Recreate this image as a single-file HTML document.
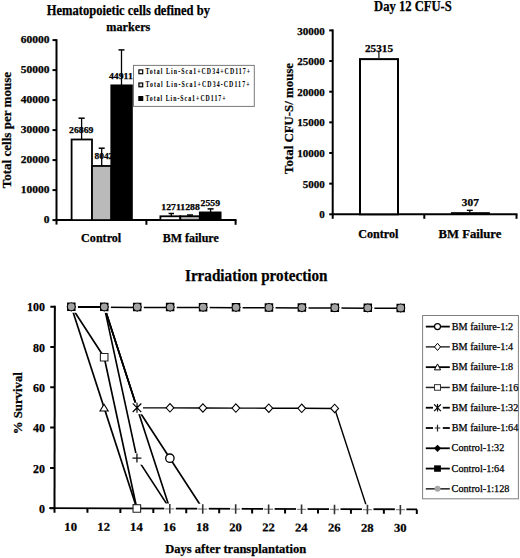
<!DOCTYPE html>
<html><head><meta charset="utf-8"><style>
html,body{margin:0;padding:0;background:#fff;}
svg{display:block;font-family:"Liberation Serif",serif;}
text{stroke:#000;stroke-width:0.25px;}
</style></head><body>
<svg width="520" height="558" viewBox="0 0 520 558">
<rect width="520" height="558" fill="#fff"/>
<text x="46.79" y="14.80" font-size="13.6" style="font-weight:bold" textLength="163.14" lengthAdjust="spacingAndGlyphs" fill="#000" >Hematopoietic cells defined by</text>
<text x="106.37" y="31.40" font-size="12.8" style="font-weight:bold" textLength="43.92" lengthAdjust="spacingAndGlyphs" fill="#000" >markers</text>
<text x="43.70" y="223.30" font-size="9.8" style="font-weight:bold" textLength="5.73" lengthAdjust="spacingAndGlyphs" fill="#000" >0</text>
<line x1="52.50" y1="220.10" x2="56.50" y2="220.10" stroke="#000" stroke-width="2" />
<text x="20.77" y="193.30" font-size="9.8" style="font-weight:bold" textLength="28.66" lengthAdjust="spacingAndGlyphs" fill="#000" >10000</text>
<line x1="52.50" y1="190.10" x2="56.50" y2="190.10" stroke="#000" stroke-width="2" />
<text x="20.77" y="163.30" font-size="9.8" style="font-weight:bold" textLength="28.66" lengthAdjust="spacingAndGlyphs" fill="#000" >20000</text>
<line x1="52.50" y1="160.10" x2="56.50" y2="160.10" stroke="#000" stroke-width="2" />
<text x="20.77" y="133.30" font-size="9.8" style="font-weight:bold" textLength="28.66" lengthAdjust="spacingAndGlyphs" fill="#000" >30000</text>
<line x1="52.50" y1="130.10" x2="56.50" y2="130.10" stroke="#000" stroke-width="2" />
<text x="20.77" y="103.30" font-size="9.8" style="font-weight:bold" textLength="28.66" lengthAdjust="spacingAndGlyphs" fill="#000" >40000</text>
<line x1="52.50" y1="100.10" x2="56.50" y2="100.10" stroke="#000" stroke-width="2" />
<text x="20.77" y="73.30" font-size="9.8" style="font-weight:bold" textLength="28.66" lengthAdjust="spacingAndGlyphs" fill="#000" >50000</text>
<line x1="52.50" y1="70.10" x2="56.50" y2="70.10" stroke="#000" stroke-width="2" />
<text x="20.77" y="43.30" font-size="9.8" style="font-weight:bold" textLength="28.66" lengthAdjust="spacingAndGlyphs" fill="#000" >60000</text>
<line x1="52.50" y1="40.10" x2="56.50" y2="40.10" stroke="#000" stroke-width="2" />
<line x1="56.50" y1="39.20" x2="56.50" y2="224.60" stroke="#000" stroke-width="2" />
<line x1="56.50" y1="220.10" x2="236.50" y2="220.10" stroke="#000" stroke-width="2" />
<line x1="146.40" y1="220.10" x2="146.40" y2="224.80" stroke="#000" stroke-width="2" />
<line x1="235.60" y1="220.10" x2="235.60" y2="224.80" stroke="#000" stroke-width="2" />
<text transform="translate(11.30,188.30) rotate(-90)" x="0" y="0" font-size="13.3" style="font-weight:bold" textLength="116.33" lengthAdjust="spacingAndGlyphs">Total cells per mouse</text>
<text x="81.11" y="242.30" font-size="11.5" style="font-weight:bold" textLength="40.09" lengthAdjust="spacingAndGlyphs" fill="#000" >Control</text>
<text x="162.80" y="242.20" font-size="11.5" style="font-weight:bold" textLength="55.91" lengthAdjust="spacingAndGlyphs" fill="#000" >BM failure</text>
<text x="69.09" y="132.60" font-size="8.2" style="font-weight:bold" textLength="24.26" lengthAdjust="spacingAndGlyphs" fill="#000" >26869</text>
<text x="94.49" y="159.30" font-size="8.8" style="font-weight:bold" textLength="18.82" lengthAdjust="spacingAndGlyphs" fill="#000" >8042</text>
<text x="108.97" y="78.70" font-size="8.2" style="font-weight:bold" textLength="23.82" lengthAdjust="spacingAndGlyphs" fill="#000" >44911</text>
<text x="161.33" y="209.70" font-size="8.6" style="font-weight:bold" textLength="38.49" lengthAdjust="spacingAndGlyphs" fill="#000" >12711288</text>
<text x="200.59" y="206.00" font-size="8.8" style="font-weight:bold" textLength="19.46" lengthAdjust="spacingAndGlyphs" fill="#000" >2559</text>
<rect x="71.60" y="139.49" width="20.40" height="80.61" fill="#fff" stroke="#000" stroke-width="1.8"/>
<rect x="92.00" y="165.97" width="19.30" height="54.13" fill="#bababa" stroke="#000" stroke-width="1.8"/>
<line x1="81.60" y1="139.49" x2="81.60" y2="118.20" stroke="#000" stroke-width="1.3" />
<line x1="78.50" y1="118.20" x2="84.70" y2="118.20" stroke="#000" stroke-width="1.5" />
<line x1="101.70" y1="165.97" x2="101.70" y2="148.20" stroke="#000" stroke-width="1.3" />
<line x1="98.70" y1="148.20" x2="104.70" y2="148.20" stroke="#000" stroke-width="1.5" />
<rect x="111.30" y="85.37" width="20.60" height="134.73" fill="#000" stroke="#000" stroke-width="1.8"/>
<line x1="121.50" y1="85.37" x2="121.50" y2="49.90" stroke="#000" stroke-width="1.3" />
<line x1="118.50" y1="49.90" x2="124.50" y2="49.90" stroke="#000" stroke-width="1.5" />
<rect x="160.40" y="216.29" width="19.90" height="3.81" fill="#fff" stroke="#000" stroke-width="1.8"/>
<rect x="180.30" y="216.24" width="19.50" height="3.86" fill="#bababa" stroke="#000" stroke-width="1.8"/>
<rect x="199.80" y="212.42" width="20.80" height="7.68" fill="#000" stroke="#000" stroke-width="1.8"/>
<line x1="171.30" y1="216.29" x2="171.30" y2="213.50" stroke="#000" stroke-width="1.3" />
<line x1="168.60" y1="213.50" x2="174.00" y2="213.50" stroke="#000" stroke-width="1.5" />
<line x1="190.00" y1="216.24" x2="190.00" y2="215.00" stroke="#000" stroke-width="1.3" />
<line x1="187.00" y1="215.00" x2="193.00" y2="215.00" stroke="#000" stroke-width="1.5" />
<line x1="210.60" y1="212.42" x2="210.60" y2="208.90" stroke="#000" stroke-width="1.3" />
<line x1="207.60" y1="208.90" x2="213.60" y2="208.90" stroke="#000" stroke-width="1.5" />
<rect x="133.5" y="65.4" width="120.8" height="41.0" fill="#fff" stroke="#7a7a7a" stroke-width="1"/>
<rect x="138.90" y="69.90" width="3.80" height="3.80" fill="#fff" stroke="#000" stroke-width="1.2"/>
<text transform="translate(145.50,73.90) scale(0.8,1)" x="-0.11" y="0" font-size="7.3" style="font-weight:bold;stroke-width:0.05px" textLength="131.00" lengthAdjust="spacing" >Total Lin-Sca1+CD34+CD117+</text>
<rect x="138.90" y="83.00" width="3.80" height="3.80" fill="#ddd" stroke="#000" stroke-width="1.2"/>
<text transform="translate(145.50,87.00) scale(0.8,1)" x="-0.11" y="0" font-size="7.3" style="font-weight:bold;stroke-width:0.05px" textLength="130.12" lengthAdjust="spacing" >Total Lin-Sca1+CD34-CD117+</text>
<rect x="138.90" y="96.60" width="3.80" height="3.80" fill="#000" stroke="#000" stroke-width="1.2"/>
<text transform="translate(145.50,100.60) scale(0.8,1)" x="-0.11" y="0" font-size="7.3" style="font-weight:bold;stroke-width:0.05px" textLength="100.25" lengthAdjust="spacing" >Total Lin-Sca1+CD117+</text>
<text x="374.08" y="10.90" font-size="13.6" style="font-weight:bold" textLength="77.76" lengthAdjust="spacingAndGlyphs" fill="#000" >Day 12 CFU-S</text>
<text x="319.31" y="218.40" font-size="10.5" style="font-weight:bold" textLength="5.51" lengthAdjust="spacingAndGlyphs" fill="#000" >0</text>
<line x1="329.20" y1="214.30" x2="332.70" y2="214.30" stroke="#000" stroke-width="2" />
<text x="302.77" y="187.75" font-size="10.5" style="font-weight:bold" textLength="22.05" lengthAdjust="spacingAndGlyphs" fill="#000" >5000</text>
<line x1="329.20" y1="183.65" x2="332.70" y2="183.65" stroke="#000" stroke-width="2" />
<text x="297.26" y="157.10" font-size="10.5" style="font-weight:bold" textLength="27.56" lengthAdjust="spacingAndGlyphs" fill="#000" >10000</text>
<line x1="329.20" y1="153.00" x2="332.70" y2="153.00" stroke="#000" stroke-width="2" />
<text x="297.26" y="126.45" font-size="10.5" style="font-weight:bold" textLength="27.56" lengthAdjust="spacingAndGlyphs" fill="#000" >15000</text>
<line x1="329.20" y1="122.35" x2="332.70" y2="122.35" stroke="#000" stroke-width="2" />
<text x="297.26" y="95.80" font-size="10.5" style="font-weight:bold" textLength="27.56" lengthAdjust="spacingAndGlyphs" fill="#000" >20000</text>
<line x1="329.20" y1="91.70" x2="332.70" y2="91.70" stroke="#000" stroke-width="2" />
<text x="297.26" y="65.15" font-size="10.5" style="font-weight:bold" textLength="27.56" lengthAdjust="spacingAndGlyphs" fill="#000" >25000</text>
<line x1="329.20" y1="61.05" x2="332.70" y2="61.05" stroke="#000" stroke-width="2" />
<text x="297.26" y="34.50" font-size="10.5" style="font-weight:bold" textLength="27.56" lengthAdjust="spacingAndGlyphs" fill="#000" >30000</text>
<line x1="329.20" y1="30.40" x2="332.70" y2="30.40" stroke="#000" stroke-width="2" />
<line x1="332.70" y1="29.40" x2="332.70" y2="218.80" stroke="#000" stroke-width="2" />
<line x1="332.70" y1="214.30" x2="517.50" y2="214.30" stroke="#000" stroke-width="2" />
<line x1="424.30" y1="214.30" x2="424.30" y2="218.80" stroke="#000" stroke-width="2" />
<line x1="516.50" y1="214.30" x2="516.50" y2="218.80" stroke="#000" stroke-width="2" />
<text transform="translate(293.40,173.90) rotate(-90)" x="0" y="0" font-size="13" style="font-weight:bold" textLength="110.93" lengthAdjust="spacingAndGlyphs">Total CFU-S/ mouse</text>
<text x="358.21" y="238.10" font-size="11.5" style="font-weight:bold" textLength="40.30" lengthAdjust="spacingAndGlyphs" fill="#000" >Control</text>
<text x="438.59" y="238.10" font-size="11.5" style="font-weight:bold" textLength="62.74" lengthAdjust="spacingAndGlyphs" fill="#000" >BM Failure</text>
<rect x="360.00" y="59.12" width="38.00" height="155.18" fill="#fff" stroke="#000" stroke-width="2"/>
<line x1="378.90" y1="59.12" x2="378.90" y2="50.50" stroke="#222" stroke-width="1.3" />
<text x="365.03" y="52.00" font-size="9.8" style="font-weight:bold" textLength="27.98" lengthAdjust="spacingAndGlyphs" fill="#000" >25315</text>
<text x="461.88" y="206.00" font-size="9.6" style="font-weight:bold" textLength="16.90" lengthAdjust="spacingAndGlyphs" fill="#000" >307</text>
<line x1="469.80" y1="210.30" x2="469.80" y2="213.00" stroke="#000" stroke-width="1.2" />
<line x1="466.80" y1="210.30" x2="472.80" y2="210.30" stroke="#000" stroke-width="1.3" />
<rect x="451.60" y="212.90" width="37.60" height="1.40" fill="#000" stroke="#000" stroke-width="1.4"/>
<text x="184.99" y="280.80" font-size="16.3" style="font-weight:bold" textLength="142.44" lengthAdjust="spacingAndGlyphs" fill="#000" >Irradiation protection</text>
<g transform="translate(54.5 508.2) skewX(-0.1) skewY(0.2) translate(-54.5 -508.2)">
<line x1="50.00" y1="508.20" x2="54.50" y2="508.20" stroke="#000" stroke-width="2" />
<line x1="50.00" y1="467.90" x2="54.50" y2="467.90" stroke="#000" stroke-width="2" />
<line x1="50.00" y1="427.60" x2="54.50" y2="427.60" stroke="#000" stroke-width="2" />
<line x1="50.00" y1="387.30" x2="54.50" y2="387.30" stroke="#000" stroke-width="2" />
<line x1="50.00" y1="347.00" x2="54.50" y2="347.00" stroke="#000" stroke-width="2" />
<line x1="50.00" y1="306.70" x2="54.50" y2="306.70" stroke="#000" stroke-width="2" />
<line x1="54.50" y1="305.70" x2="54.50" y2="512.70" stroke="#000" stroke-width="2" />
<line x1="49.20" y1="508.20" x2="417.00" y2="508.20" stroke="#000" stroke-width="1.8" />
<line x1="87.44" y1="508.20" x2="87.44" y2="512.70" stroke="#000" stroke-width="2" />
<line x1="120.38" y1="508.20" x2="120.38" y2="512.70" stroke="#000" stroke-width="2" />
<line x1="153.32" y1="508.20" x2="153.32" y2="512.70" stroke="#000" stroke-width="2" />
<line x1="186.26" y1="508.20" x2="186.26" y2="512.70" stroke="#000" stroke-width="2" />
<line x1="219.20" y1="508.20" x2="219.20" y2="512.70" stroke="#000" stroke-width="2" />
<line x1="252.14" y1="508.20" x2="252.14" y2="512.70" stroke="#000" stroke-width="2" />
<line x1="285.08" y1="508.20" x2="285.08" y2="512.70" stroke="#000" stroke-width="2" />
<line x1="318.02" y1="508.20" x2="318.02" y2="512.70" stroke="#000" stroke-width="2" />
<line x1="350.96" y1="508.20" x2="350.96" y2="512.70" stroke="#000" stroke-width="2" />
<line x1="383.90" y1="508.20" x2="383.90" y2="512.70" stroke="#000" stroke-width="2" />
<line x1="416.84" y1="508.20" x2="416.84" y2="512.70" stroke="#000" stroke-width="2" />
<polyline points="70.97,306.70 103.91,306.70 136.85,407.45 169.79,457.82 202.73,508.20" fill="none" stroke="#000" stroke-width="1.65" stroke-linejoin="round"/>
<circle cx="169.79" cy="457.82" r="4.2" fill="#fff" stroke="#000" stroke-width="1.3"/>
<polyline points="70.97,306.70 103.91,306.70 136.85,407.45 169.79,407.45 202.73,407.45 235.67,407.45 268.61,407.45 301.55,407.45 334.49,407.45 367.43,508.20 400.37,508.20" fill="none" stroke="#000" stroke-width="1.4" stroke-linejoin="round"/>
<path d="M165.89,407.45 L169.79,403.25 L173.69,407.45 L169.79,411.65 Z" fill="#fff" stroke="#000" stroke-width="1.1"/>
<path d="M198.83,407.45 L202.73,403.25 L206.63,407.45 L202.73,411.65 Z" fill="#fff" stroke="#000" stroke-width="1.1"/>
<path d="M231.77,407.45 L235.67,403.25 L239.57,407.45 L235.67,411.65 Z" fill="#fff" stroke="#000" stroke-width="1.1"/>
<path d="M264.71,407.45 L268.61,403.25 L272.51,407.45 L268.61,411.65 Z" fill="#fff" stroke="#000" stroke-width="1.1"/>
<path d="M297.65,407.45 L301.55,403.25 L305.45,407.45 L301.55,411.65 Z" fill="#fff" stroke="#000" stroke-width="1.1"/>
<path d="M330.59,407.45 L334.49,403.25 L338.39,407.45 L334.49,411.65 Z" fill="#fff" stroke="#000" stroke-width="1.1"/>
<polyline points="70.97,306.70 103.91,407.45 136.85,508.20" fill="none" stroke="#000" stroke-width="1.65" stroke-linejoin="round"/>
<path d="M103.91,404.05 L108.01,410.75 L99.81,410.75 Z" fill="#fff" stroke="#000" stroke-width="1.1"/>
<polyline points="70.97,306.70 103.91,357.07 136.85,508.20" fill="none" stroke="#000" stroke-width="1.65" stroke-linejoin="round"/>
<rect x="100.11" y="353.27" width="7.60" height="7.60" fill="#fff" stroke="#222" stroke-width="1.1"/>
<rect x="133.05" y="504.40" width="7.60" height="7.60" fill="#fff" stroke="#222" stroke-width="1.1"/>
<polyline points="70.97,306.70 103.91,306.70 136.85,407.45 169.79,508.20" fill="none" stroke="#000" stroke-width="1.65" stroke-linejoin="round"/>
<rect x="131.35" y="402.45" width="11.50" height="11.50" fill="#fff"/>
<path d="M132.55,403.15 L141.15,411.75 M132.55,411.75 L141.15,403.15 M136.85,402.55 L136.85,412.35" stroke="#000" stroke-width="1.2" fill="none"/>
<polyline points="70.97,306.70 103.91,306.70 136.85,457.82 169.79,508.20" fill="none" stroke="#000" stroke-width="1.65" stroke-linejoin="round"/>
<rect x="131.35" y="452.82" width="11.50" height="11.50" fill="#fff"/>
<path d="M132.35,457.82 L141.35,457.82 M136.85,453.32 L136.85,462.32" stroke="#111" stroke-width="1.3"/>
<rect x="164.29" y="503.20" width="11.50" height="11.50" fill="#fff"/>
<path d="M165.29,508.50 L174.29,508.50" stroke="#8a8a8a" stroke-width="1.3"/>
<path d="M169.79,503.70 L169.79,513.20" stroke="#333" stroke-width="1.6"/>
<rect x="197.23" y="503.20" width="11.50" height="11.50" fill="#fff"/>
<path d="M198.23,508.50 L207.23,508.50" stroke="#8a8a8a" stroke-width="1.3"/>
<path d="M202.73,503.70 L202.73,513.20" stroke="#333" stroke-width="1.6"/>
<rect x="230.17" y="503.20" width="11.50" height="11.50" fill="#fff"/>
<path d="M231.17,508.50 L240.17,508.50" stroke="#8a8a8a" stroke-width="1.3"/>
<path d="M235.67,503.70 L235.67,513.20" stroke="#333" stroke-width="1.6"/>
<rect x="263.11" y="503.20" width="11.50" height="11.50" fill="#fff"/>
<path d="M264.11,508.50 L273.11,508.50" stroke="#8a8a8a" stroke-width="1.3"/>
<path d="M268.61,503.70 L268.61,513.20" stroke="#333" stroke-width="1.6"/>
<rect x="296.05" y="503.20" width="11.50" height="11.50" fill="#fff"/>
<path d="M297.05,508.50 L306.05,508.50" stroke="#8a8a8a" stroke-width="1.3"/>
<path d="M301.55,503.70 L301.55,513.20" stroke="#333" stroke-width="1.6"/>
<rect x="328.99" y="503.20" width="11.50" height="11.50" fill="#fff"/>
<path d="M329.99,508.50 L338.99,508.50" stroke="#8a8a8a" stroke-width="1.3"/>
<path d="M334.49,503.70 L334.49,513.20" stroke="#333" stroke-width="1.6"/>
<rect x="361.93" y="503.20" width="11.50" height="11.50" fill="#fff"/>
<path d="M362.93,508.50 L371.93,508.50" stroke="#8a8a8a" stroke-width="1.3"/>
<path d="M367.43,503.70 L367.43,513.20" stroke="#333" stroke-width="1.6"/>
<rect x="394.87" y="503.20" width="11.50" height="11.50" fill="#fff"/>
<path d="M395.87,508.50 L404.87,508.50" stroke="#8a8a8a" stroke-width="1.3"/>
<path d="M400.37,503.70 L400.37,513.20" stroke="#333" stroke-width="1.6"/>
<polyline points="70.97,307.10 103.91,307.10 136.85,307.10 169.79,307.10 202.73,307.10 235.67,307.10 268.61,307.10 301.55,307.10 334.49,307.10 367.43,307.10 400.37,307.10" fill="none" stroke="#000" stroke-width="1.5"/>
<rect x="66.77" y="302.50" width="10.80" height="10.20" fill="#fff"/>
<path d="M66.07,306.70 L70.97,302.10 L75.87,306.70 L70.97,311.60 Z" fill="#000"/>
<rect x="66.72" y="302.45" width="8.50" height="8.50" fill="#000"/>
<circle cx="70.97" cy="306.70" r="3.4" fill="#a2a2a2"/>
<rect x="99.71" y="302.50" width="10.80" height="10.20" fill="#fff"/>
<path d="M99.01,306.70 L103.91,302.10 L108.81,306.70 L103.91,311.60 Z" fill="#000"/>
<rect x="99.66" y="302.45" width="8.50" height="8.50" fill="#000"/>
<circle cx="103.91" cy="306.70" r="3.4" fill="#a2a2a2"/>
<rect x="132.65" y="302.50" width="10.80" height="10.20" fill="#fff"/>
<path d="M131.95,306.70 L136.85,302.10 L141.75,306.70 L136.85,311.60 Z" fill="#000"/>
<rect x="132.60" y="302.45" width="8.50" height="8.50" fill="#000"/>
<circle cx="136.85" cy="306.70" r="3.4" fill="#a2a2a2"/>
<rect x="165.59" y="302.50" width="10.80" height="10.20" fill="#fff"/>
<path d="M164.89,306.70 L169.79,302.10 L174.69,306.70 L169.79,311.60 Z" fill="#000"/>
<rect x="165.54" y="302.45" width="8.50" height="8.50" fill="#000"/>
<circle cx="169.79" cy="306.70" r="3.4" fill="#a2a2a2"/>
<rect x="198.53" y="302.50" width="10.80" height="10.20" fill="#fff"/>
<path d="M197.83,306.70 L202.73,302.10 L207.63,306.70 L202.73,311.60 Z" fill="#000"/>
<rect x="198.48" y="302.45" width="8.50" height="8.50" fill="#000"/>
<circle cx="202.73" cy="306.70" r="3.4" fill="#a2a2a2"/>
<rect x="231.47" y="302.50" width="10.80" height="10.20" fill="#fff"/>
<path d="M230.77,306.70 L235.67,302.10 L240.57,306.70 L235.67,311.60 Z" fill="#000"/>
<rect x="231.42" y="302.45" width="8.50" height="8.50" fill="#000"/>
<circle cx="235.67" cy="306.70" r="3.4" fill="#a2a2a2"/>
<rect x="264.41" y="302.50" width="10.80" height="10.20" fill="#fff"/>
<path d="M263.71,306.70 L268.61,302.10 L273.51,306.70 L268.61,311.60 Z" fill="#000"/>
<rect x="264.36" y="302.45" width="8.50" height="8.50" fill="#000"/>
<circle cx="268.61" cy="306.70" r="3.4" fill="#a2a2a2"/>
<rect x="297.35" y="302.50" width="10.80" height="10.20" fill="#fff"/>
<path d="M296.65,306.70 L301.55,302.10 L306.45,306.70 L301.55,311.60 Z" fill="#000"/>
<rect x="297.30" y="302.45" width="8.50" height="8.50" fill="#000"/>
<circle cx="301.55" cy="306.70" r="3.4" fill="#a2a2a2"/>
<rect x="330.29" y="302.50" width="10.80" height="10.20" fill="#fff"/>
<path d="M329.59,306.70 L334.49,302.10 L339.39,306.70 L334.49,311.60 Z" fill="#000"/>
<rect x="330.24" y="302.45" width="8.50" height="8.50" fill="#000"/>
<circle cx="334.49" cy="306.70" r="3.4" fill="#a2a2a2"/>
<rect x="363.23" y="302.50" width="10.80" height="10.20" fill="#fff"/>
<path d="M362.53,306.70 L367.43,302.10 L372.33,306.70 L367.43,311.60 Z" fill="#000"/>
<rect x="363.18" y="302.45" width="8.50" height="8.50" fill="#000"/>
<circle cx="367.43" cy="306.70" r="3.4" fill="#a2a2a2"/>
<rect x="396.17" y="302.50" width="10.80" height="10.20" fill="#fff"/>
<path d="M395.47,306.70 L400.37,302.10 L405.27,306.70 L400.37,311.60 Z" fill="#000"/>
<rect x="396.12" y="302.45" width="8.50" height="8.50" fill="#000"/>
<circle cx="400.37" cy="306.70" r="3.4" fill="#a2a2a2"/>
<text x="64.39" y="530.60" font-size="11.8" style="font-weight:bold" textLength="12.63" lengthAdjust="spacingAndGlyphs" fill="#000" >10</text>
<text x="97.36" y="530.60" font-size="11.8" style="font-weight:bold" textLength="12.63" lengthAdjust="spacingAndGlyphs" fill="#000" >12</text>
<text x="130.15" y="530.60" font-size="11.8" style="font-weight:bold" textLength="12.63" lengthAdjust="spacingAndGlyphs" fill="#000" >14</text>
<text x="163.16" y="530.60" font-size="11.8" style="font-weight:bold" textLength="12.63" lengthAdjust="spacingAndGlyphs" fill="#000" >16</text>
<text x="196.12" y="530.60" font-size="11.8" style="font-weight:bold" textLength="12.63" lengthAdjust="spacingAndGlyphs" fill="#000" >18</text>
<text x="229.33" y="530.60" font-size="11.8" style="font-weight:bold" textLength="12.63" lengthAdjust="spacingAndGlyphs" fill="#000" >20</text>
<text x="262.30" y="530.60" font-size="11.8" style="font-weight:bold" textLength="12.63" lengthAdjust="spacingAndGlyphs" fill="#000" >22</text>
<text x="295.09" y="530.60" font-size="11.8" style="font-weight:bold" textLength="12.63" lengthAdjust="spacingAndGlyphs" fill="#000" >24</text>
<text x="328.10" y="530.60" font-size="11.8" style="font-weight:bold" textLength="12.63" lengthAdjust="spacingAndGlyphs" fill="#000" >26</text>
<text x="361.06" y="530.60" font-size="11.8" style="font-weight:bold" textLength="12.63" lengthAdjust="spacingAndGlyphs" fill="#000" >28</text>
<text x="394.06" y="530.60" font-size="11.8" style="font-weight:bold" textLength="12.63" lengthAdjust="spacingAndGlyphs" fill="#000" >30</text>
</g>
<text x="38.98" y="512.80" font-size="11.6" style="font-weight:bold" textLength="5.97" lengthAdjust="spacingAndGlyphs" fill="#000" >0</text>
<text x="33.01" y="472.50" font-size="11.6" style="font-weight:bold" textLength="11.95" lengthAdjust="spacingAndGlyphs" fill="#000" >20</text>
<text x="33.01" y="432.20" font-size="11.6" style="font-weight:bold" textLength="11.95" lengthAdjust="spacingAndGlyphs" fill="#000" >40</text>
<text x="33.01" y="391.90" font-size="11.6" style="font-weight:bold" textLength="11.95" lengthAdjust="spacingAndGlyphs" fill="#000" >60</text>
<text x="33.01" y="351.60" font-size="11.6" style="font-weight:bold" textLength="11.95" lengthAdjust="spacingAndGlyphs" fill="#000" >80</text>
<text x="27.03" y="311.30" font-size="11.6" style="font-weight:bold" textLength="17.92" lengthAdjust="spacingAndGlyphs" fill="#000" >100</text>
<text x="165.28" y="552.90" font-size="12.3" style="font-weight:bold" textLength="140.91" lengthAdjust="spacingAndGlyphs" fill="#000" >Days after transplantation</text>
<text transform="translate(21.70,434.21) rotate(-90)" x="0" y="0" font-size="13" style="font-weight:bold" textLength="62.03" lengthAdjust="spacingAndGlyphs">% Survival</text>
<rect x="422.6" y="315.5" width="95.8" height="183.3" fill="#fff" stroke="#808080" stroke-width="1"/>
<line x1="425.80" y1="326.60" x2="449.80" y2="326.60" stroke="#000" stroke-width="1.8" />
<circle cx="437.5" cy="326.60" r="3.0" fill="#fff" stroke="#000" stroke-width="1.2"/>
<text x="451.71" y="329.80" font-size="10.0" style="font-weight:normal" textLength="61.47" lengthAdjust="spacingAndGlyphs" fill="#000" stroke="#000" stroke-width="0.2">BM failure-1:2</text>
<line x1="425.80" y1="346.88" x2="449.80" y2="346.88" stroke="#222" stroke-width="1.4" />
<path d="M434.50,346.88 L437.50,343.28 L440.50,346.88 L437.50,350.48 Z" fill="#fff" stroke="#000" stroke-width="1.0"/>
<text x="451.71" y="350.08" font-size="10.0" style="font-weight:normal" textLength="61.47" lengthAdjust="spacingAndGlyphs" fill="#000" stroke="#000" stroke-width="0.2">BM failure-1:4</text>
<line x1="425.80" y1="367.16" x2="449.80" y2="367.16" stroke="#000" stroke-width="1.8" />
<path d="M437.50,363.96 L440.60,369.86 L434.40,369.86 Z" fill="#fff" stroke="#000" stroke-width="1.0"/>
<text x="451.71" y="370.36" font-size="10.0" style="font-weight:normal" textLength="61.47" lengthAdjust="spacingAndGlyphs" fill="#000" stroke="#000" stroke-width="0.2">BM failure-1:8</text>
<line x1="425.80" y1="387.44" x2="449.80" y2="387.44" stroke="#222" stroke-width="1.5" />
<rect x="434.50" y="384.64" width="6.0" height="5.6" fill="#fff" stroke="#333" stroke-width="1.0"/>
<text x="451.71" y="390.64" font-size="10.0" style="font-weight:normal" textLength="66.57" lengthAdjust="spacingAndGlyphs" fill="#000" stroke="#000" stroke-width="0.2">BM failure-1:16</text>
<line x1="425.80" y1="407.72" x2="433.00" y2="407.72" stroke="#000" stroke-width="1.8" />
<line x1="442.80" y1="407.72" x2="449.80" y2="407.72" stroke="#000" stroke-width="1.8" />
<path d="M434.10,404.32 L440.90,411.12 M434.10,411.12 L440.90,404.32 M437.50,403.92 L437.50,411.52" stroke="#000" stroke-width="1.2" fill="none"/>
<text x="451.71" y="410.92" font-size="10.0" style="font-weight:normal" textLength="66.57" lengthAdjust="spacingAndGlyphs" fill="#000" stroke="#000" stroke-width="0.2">BM failure-1:32</text>
<line x1="425.80" y1="428.00" x2="433.00" y2="428.00" stroke="#000" stroke-width="1.8" />
<line x1="442.80" y1="428.00" x2="449.80" y2="428.00" stroke="#000" stroke-width="1.8" />
<path d="M434.70,428.00 L440.30,428.00 M437.50,424.80 L437.50,431.60" stroke="#222" stroke-width="1.2" fill="none"/>
<text x="451.71" y="431.20" font-size="10.0" style="font-weight:normal" textLength="66.57" lengthAdjust="spacingAndGlyphs" fill="#000" stroke="#000" stroke-width="0.2">BM failure-1:64</text>
<line x1="425.80" y1="448.28" x2="449.80" y2="448.28" stroke="#000" stroke-width="1.8" />
<path d="M433.90,448.28 L437.50,444.68 L441.10,448.28 L437.50,451.88 Z" fill="#000"/>
<text x="451.58" y="451.48" font-size="10.0" style="font-weight:normal" textLength="52.70" lengthAdjust="spacingAndGlyphs" fill="#000" stroke="#000" stroke-width="0.2">Control-1:32</text>
<line x1="425.80" y1="468.56" x2="449.80" y2="468.56" stroke="#000" stroke-width="1.8" />
<rect x="434.10" y="465.36" width="6.8" height="6.4" fill="#000"/>
<text x="451.58" y="471.76" font-size="10.0" style="font-weight:normal" textLength="52.70" lengthAdjust="spacingAndGlyphs" fill="#000" stroke="#000" stroke-width="0.2">Control-1:64</text>
<line x1="425.80" y1="488.84" x2="449.80" y2="488.84" stroke="#222" stroke-width="1.5" />
<circle cx="437.5" cy="488.84" r="3.0" fill="#a8a8a8"/>
<text x="451.58" y="492.04" font-size="10.0" style="font-weight:normal" textLength="57.80" lengthAdjust="spacingAndGlyphs" fill="#000" stroke="#000" stroke-width="0.2">Control-1:128</text>
</svg>
</body></html>
